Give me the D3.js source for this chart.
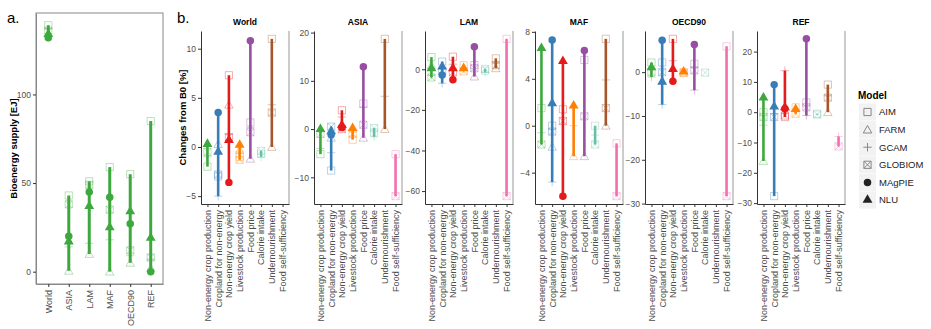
<!DOCTYPE html>
<html><head><meta charset="utf-8">
<script src="https://cdn.jsdelivr.net/npm/d3@7"></script>
<style>
body{margin:0;background:#fff}
svg{display:block}
text{font-family:"Liberation Sans",Arial,Helvetica,sans-serif}
</style>
</head><body>
<svg id="c" width="931" height="329"></svg>
<script>
// ---------------- DATA ----------------
const models = ["AIM","FARM","GCAM","GLOBIOM","MAgPIE","NLU"];
const regions = ["World","ASIA","LAM","MAF","OECD90","REF"];
const indicators = ["Non-energy crop production","Cropland for non-energy","Non-energy crop yield",
  "Livestock production","Food price","Calorie intake","Undernourishment","Food self-sufficiency"];
const indicatorColors = ["#3da83d","#377eb8","#e41a1c","#ff7f00","#984ea3","#66c2a5","#a65628","#f06fb0"];

// Panel a: bioenergy supply [EJ]; rows = models, cols = regions
const bioenergy = [
  [139, 43, 51, 59, 55, 85],    // AIM
  [null, 0.5, 10, 0, 5, 2],     // FARM
  [137, 14, 16, 18, 9, 7],      // GCAM
  [136, 38, 49, 35, 12, 8],     // GLOBIOM
  [132, 20, 45, 42, 27, 0],     // MAgPIE
  [134, 17, 37, 25, 34, 19]     // NLU
];
const ticksA = [0, 50, 100];

// Panel b: changes from B0 [%]; rows = models, cols = indicators
const chgWorld = [
  [-2.0, -3.0, 7.3, -1.0, 2.5, -0.7, 11.0, null],
  [null, 0.3, 4.3, -0.3, -1.2, null, 0, null],
  [-1.0, -5.0, 1.3, -0.5, 2.0, -1.0, 4.3, null],
  [-0.5, -2.8, 1.0, -1.3, 1.5, -0.4, 3.5, null],
  [null, 3.5, -3.6, null, 10.8, null, null, null],
  [0.3, -0.5, 0.7, 0.2, null, null, null, null]
];
const chgASIA = [
  [-5.2, -8.6, 3.9, -2.2, 5.3, -0.7, 18.7, -5.2],
  [null, -1.8, null, null, -1.8, null, 0, null],
  [-4.0, -4.9, 2.5, -0.6, 4.5, -1.6, 6.8, null],
  [-1.0, 0.5, 0, -1.0, 0.9, 0.2, null, -13.9],
  [null, -1.2, 0.3, null, 12.9, null, null, null],
  [0, -0.5, 0.8, 0.2, null, null, null, null]
];
const chgLAM = [
  [6.0, 3.8, 6.2, 2.0, 2.1, -0.7, 5.4, 15.0],
  [2.0, null, null, null, -3.6, null, 0.5, null],
  [-3.0, -6.9, 2.5, 0, null, -1.5, 3.0, null],
  [-4.0, -1.0, -1.5, -1.0, 0.5, 0.2, 2.0, -62.5],
  [null, -2.8, -5.2, null, 11.1, null, null, null],
  [0.5, 1.3, 0.5, 0.5, null, null, null, null]
];
const chgMAF = [
  [1.5, 0, 1.4, null, 5.6, 0, 7.4, -1.5],
  [null, -1.8, null, -2.6, -2.6, null, 0, null],
  [-0.6, -4.8, null, 0, null, -0.8, 3.9, null],
  [-1.6, -0.5, 0.4, null, 0.8, -1.6, 1.5, -6.0],
  [null, 7.3, -6.0, null, 6.4, null, null, null],
  [6.6, 1.9, 5.5, 1.7, null, null, null, null]
];
const chgOECD90 = [
  [2.2, 2.2, 7.6, 0, 1.9, null, null, 5.9],
  [null, null, null, null, null, null, null, null],
  [-1.1, -7.4, 2.6, null, -4.1, null, null, null],
  [0, 0, null, -0.2, 0.4, -0.1, null, -28.3],
  [null, 7.3, -2.1, null, 6.3, null, null, null],
  [1.1, -2.2, 0.7, 0.1, null, null, null, null]
];
const chgREF = [
  [0, -27.7, -1.6, 1.6, 3.2, -0.5, 9.1, null],
  [-16.1, null, null, null, null, null, 0, null],
  [-4.3, -0.5, 13.7, 0.3, -1.1, null, 5.4, -8.0],
  [-1.6, -1.6, -1.1, -0.5, 1.6, -0.8, 4.8, -11.3],
  [null, 9.1, 1.1, null, 24.2, null, null, null],
  [4.8, 1.8, 1.6, 1.0, null, null, null, null]
];
const changes = [chgWorld, chgASIA, chgLAM, chgMAF, chgOECD90, chgREF];
const ticksWorld = [-5, 0, 5, 10];
const ticksASIA = [-10, 0, 10, 20];
const ticksLAM = [-60, -40, -20, 0];
const ticksMAF = [-4, 0, 4, 8];
const ticksOECD90 = [-30, -20, -10, 0];
const ticksREF = [-30, -20, -10, 0, 10, 20];
const ticksB = [ticksWorld, ticksASIA, ticksLAM, ticksMAF, ticksOECD90, ticksREF];

// ---------------- HELPERS ----------------
const svg = d3.select("#c");
const filledModels = ["MAgPIE","NLU"];
function shapePath(model){
  const s = 3.6;
  switch(model){
    case "AIM": return `M${-s},${-s}H${s}V${s}H${-s}Z`;
    case "FARM": return `M0,${-s-0.6}L${s+0.6},${s-0.2}L${-s-0.6},${s-0.2}Z`;
    case "GCAM": return `M${-s-0.6},0H${s+0.6}M0,${-s-0.6}V${s+0.6}`;
    case "GLOBIOM": return `M${-s},${-s}H${s}V${s}H${-s}ZM${-s},${-s}L${s},${s}M${s},${-s}L${-s},${s}`;
    case "MAgPIE": return d3.symbol(d3.symbolCircle, 44)();
    case "NLU": return d3.symbol(d3.symbolTriangle, 42)();
  }
}
function drawPoints(g, pts, x, y){
  const hollow = pts.filter(p => !filledModels.includes(p.model));
  const filled = pts.filter(p => filledModels.includes(p.model));
  g.selectAll("path.h").data(hollow).join("path").attr("class","h")
    .attr("d", d => shapePath(d.model))
    .attr("transform", d => `translate(${x(d.cat)},${y(d.v)})`)
    .attr("fill","none").attr("stroke", d => d.color).attr("stroke-width",1)
    .attr("stroke-opacity",0.35);
  g.selectAll("path.f").data(filled).join("path").attr("class","f")
    .attr("d", d => shapePath(d.model))
    .attr("transform", d => `translate(${x(d.cat)},${y(d.v)})`)
    .attr("fill", d => d.color);
}
function styleAxis(g){
  g.selectAll(".domain").attr("stroke","#333").attr("stroke-width",1);
  g.selectAll(".tick line").attr("stroke","#333");
  g.selectAll(".tick text").attr("fill","#4d4d4d").style("font-size","8.5px");
}
function expanded(vals){
  const [lo, hi] = d3.extent(vals);
  const pad = (hi - lo) * 0.05;
  return [lo - pad, hi + pad];
}

// ---------------- PANEL A ----------------
(function(){
  const L = 36, R = 163, T = 13, B = 284;
  const x = d3.scalePoint().domain(regions).range([L, R]).padding(0.6);
  const all = bioenergy.flat().filter(v => v != null);
  const y = d3.scaleLinear().domain(expanded(all)).range([B, T]);
  const g = svg.append("g");
  const col = "#3da83d";
  regions.forEach((r, j) => {
    const vals = bioenergy.map(row => row[j]).filter(v => v != null);
    g.append("line").attr("x1", x(r)).attr("x2", x(r))
      .attr("y1", y(d3.min(vals))).attr("y2", y(d3.max(vals)))
      .attr("stroke", col).attr("stroke-width", 3);
  });
  const pts = [];
  models.forEach((m, i) => regions.forEach((r, j) => {
    const v = bioenergy[i][j];
    if (v != null) pts.push({cat: r, model: m, v, color: col});
  }));
  drawPoints(g, pts, x, y);
  g.append("rect").attr("x", L).attr("y", T).attr("width", R - L).attr("height", B - T)
    .attr("fill","none").attr("stroke","#888").attr("stroke-width",1);
  const ay = g.append("g").attr("transform",`translate(${L},0)`)
    .call(d3.axisLeft(y).tickValues(ticksA).tickSize(3).tickSizeOuter(0).tickPadding(2));
  styleAxis(ay); ay.select(".domain").attr("stroke","#888");
  const ax = g.append("g").attr("transform",`translate(0,${B})`)
    .call(d3.axisBottom(x).tickSize(3).tickSizeOuter(0).tickPadding(2));
  styleAxis(ax); ax.select(".domain").attr("stroke","#888");
  ax.selectAll(".tick text").attr("transform","rotate(-90)").attr("text-anchor","end")
    .attr("x",-6).attr("y",0).attr("dy","0.32em").style("font-size","9px");
  svg.append("text").attr("transform",`translate(17,${(T+B)/2}) rotate(-90)`)
    .attr("text-anchor","middle").attr("font-weight","bold").style("font-size","9.5px")
    .text("Bioenergy supply [EJ]");
  svg.append("text").attr("x",7).attr("y",23).style("font-size","15px").text("a.");
})();

// ---------------- PANEL B ----------------
const facetLeft = [201, 314, 425, 535, 645, 757];
const facetW = 88, fT = 31, fB = 204;
regions.forEach((reg, k) => {
  const L = facetLeft[k], R = L + facetW;
  const data = changes[k];
  const x = d3.scalePoint().domain(indicators).range([L, R]).padding(0.6);
  const all = data.flat().filter(v => v != null);
  const y = d3.scaleLinear().domain(expanded(all)).range([fB, fT]);
  const g = svg.append("g");
  indicators.forEach((ind, j) => {
    const vals = data.map(row => row[j]).filter(v => v != null);
    if (vals.length < 1) return;
    g.append("line").attr("x1", x(ind)).attr("x2", x(ind))
      .attr("y1", y(d3.min(vals))).attr("y2", y(d3.max(vals)))
      .attr("stroke", indicatorColors[j]).attr("stroke-width", 2.6);
  });
  const pts = [];
  models.forEach((m, i) => indicators.forEach((ind, j) => {
    const v = data[i][j];
    if (v != null) pts.push({cat: ind, model: m, v, color: indicatorColors[j]});
  }));
  drawPoints(g, pts, x, y);
  g.append("line").attr("x1", R).attr("x2", R).attr("y1", fT).attr("y2", fB)
    .attr("stroke","#999").attr("stroke-width",1);
  const ay = g.append("g").attr("transform",`translate(${L},0)`)
    .call(d3.axisLeft(y).tickValues(ticksB[k]).tickSize(3).tickSizeOuter(0).tickPadding(2));
  styleAxis(ay);
  const ax = g.append("g").attr("transform",`translate(0,${fB})`)
    .call(d3.axisBottom(x).tickSize(3).tickSizeOuter(0).tickPadding(2));
  styleAxis(ax);
  ax.selectAll(".tick text").attr("transform","rotate(-90)").attr("text-anchor","end")
    .attr("x",-6).attr("y",0).attr("dy","0.32em").style("font-size","9px");
  svg.append("text").attr("x",(L+R)/2).attr("y",25).attr("text-anchor","middle")
    .attr("font-weight","bold").style("font-size","8.5px").text(reg);
});
svg.append("text").attr("transform",`translate(186,${(fT+fB)/2}) rotate(-90)`)
  .attr("text-anchor","middle").attr("font-weight","bold").style("font-size","9.5px")
  .text("Changes from B0 [%]");
svg.append("text").attr("x",177).attr("y",23).style("font-size","15px").text("b.");

// ---------------- LEGEND ----------------
const lg = svg.append("g");
lg.append("text").attr("x",858).attr("y",99).attr("font-weight","bold")
  .style("font-size","10px").text("Model");
models.forEach((m, i) => {
  const cy = 112 + i * 17.6;
  lg.append("rect").attr("x",859).attr("y",cy-8.5).attr("width",17).attr("height",17).attr("fill","#f2f2f2");
  const filled = filledModels.includes(m);
  lg.append("path").attr("d", shapePath(m)).attr("transform",`translate(867.5,${cy})`)
    .attr("fill", filled ? "#222" : "none").attr("stroke", filled ? "none" : "#888").attr("stroke-width",1);
  lg.append("text").attr("x",879).attr("y",cy).attr("dy","0.35em")
    .style("font-size","9.5px").attr("fill","#222").text(m);
});
</script>
</body></html>
